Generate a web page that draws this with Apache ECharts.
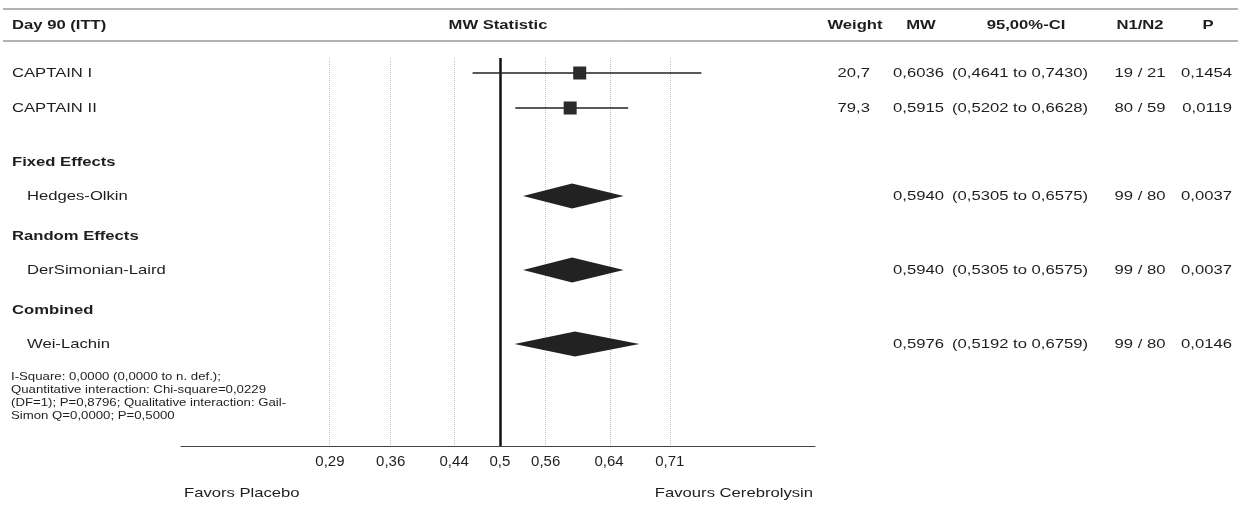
<!DOCTYPE html>
<html>
<head>
<meta charset="utf-8">
<title>Day 90 (ITT) - MW Statistic</title>
<script src="https://cdn.jsdelivr.net/npm/echarts@6/dist/echarts.min.js"></script>
<style>
html, body { margin: 0; padding: 0; background: #fff; }
#chart { width: 1242px; height: 517px; }
</style>
</head>
<body>
<div id="chart"></div>
<script>
// single studies
var studies = ['CAPTAIN I', 'CAPTAIN II'];
var studyWeight = [20.7, 79.3];
var studyMW = [0.6036, 0.5915];
var studyLow = [0.4641, 0.5202];
var studyHigh = [0.7430, 0.6628];
var studyN1 = [19, 80];
var studyN2 = [21, 59];
var studyP = [0.1454, 0.0119];

// pooled results
var poolGroups = ['Fixed Effects', 'Random Effects', 'Combined'];
var poolMethods = ['Hedges-Olkin', 'DerSimonian-Laird', 'Wei-Lachin'];
var poolMW = [0.5940, 0.5940, 0.5976];
var poolLow = [0.5305, 0.5305, 0.5192];
var poolHigh = [0.6575, 0.6575, 0.6759];
var poolN1 = [99, 99, 99];
var poolN2 = [80, 80, 80];
var poolP = [0.0037, 0.0037, 0.0146];

var tickValues = [0.29, 0.36, 0.44, 0.5, 0.56, 0.64, 0.71];
var tickLabels = ['0,29', '0,36', '0,44', '0,5', '0,56', '0,64', '0,71'];

var footnote = [
  'I-Square: 0,0000 (0,0000 to n. def.);',
  'Quantitative interaction: Chi-square=0,0229',
  '(DF=1); P=0,8796; Qualitative interaction: Gail-',
  'Simon Q=0,0000; P=0,5000'
];

// layout (pixels)
var gridTop = 58;
var gridBottom = 446;
var studyRows = [15, 50];
var groupRows = [104, 178, 252];
var methodRows = [138, 212, 286];
var FONT = '"Liberation Sans", Arial, sans-serif';

function logit(p) { return Math.log(p / (1 - p)); }
function num(v, d) { return v.toFixed(d).replace('.', ','); }

function txt(x, y, text, o) {
  o = o || {};
  return {
    type: 'text', x: x, y: y, silent: true,
    scaleX: o.sx || 1.28,
    style: {
      text: text,
      fill: '#1e1e1e',
      font: (o.bold ? 'bold ' : '') + (o.size || 13) + 'px ' + FONT,
      textAlign: o.align || 'left',
      textVerticalAlign: 'middle'
    }
  };
}

function tableRow(y, w, mw, lo, hi, n1, n2, p) {
  var out = [];
  if (w != null) out.push(txt(870, y, num(w, 1), { align: 'right' }));
  out.push(txt(893, y, num(mw, 4)));
  out.push(txt(952, y, '(' + num(lo, 4) + ' to ' + num(hi, 4) + ')'));
  out.push(txt(1140, y, n1 + ' / ' + n2, { align: 'center' }));
  out.push(txt(1232, y, num(p, 4), { align: 'right' }));
  return out;
}

var graphics = [
  { type: 'line', silent: true, shape: { x1: 3, y1: 9, x2: 1238, y2: 9 }, style: { stroke: '#666', lineWidth: 1 } },
  { type: 'line', silent: true, shape: { x1: 3, y1: 41, x2: 1238, y2: 41 }, style: { stroke: '#666', lineWidth: 1 } },
  txt(12, 25, 'Day 90 (ITT)', { bold: true }),
  txt(498, 25, 'MW Statistic', { bold: true, align: 'center' }),
  txt(855, 25, 'Weight', { bold: true, align: 'center' }),
  txt(921, 25, 'MW', { bold: true, align: 'center' }),
  txt(1026, 25, '95,00%-CI', { bold: true, align: 'center' }),
  txt(1140, 25, 'N1/N2', { bold: true, align: 'center' }),
  txt(1208, 25, 'P', { bold: true, align: 'center' }),
  txt(184, 493, 'Favors Placebo'),
  txt(813, 493, 'Favours Cerebrolysin', { align: 'right' })
];

studies.forEach(function (s, i) {
  var y = gridTop + studyRows[i];
  graphics.push(txt(12, y, s));
  graphics = graphics.concat(tableRow(y, studyWeight[i], studyMW[i], studyLow[i], studyHigh[i], studyN1[i], studyN2[i], studyP[i]));
});
poolGroups.forEach(function (g, i) {
  graphics.push(txt(12, gridTop + groupRows[i], g, { bold: true }));
  var y = gridTop + methodRows[i];
  graphics.push(txt(27, y, poolMethods[i]));
  graphics = graphics.concat(tableRow(y, null, poolMW[i], poolLow[i], poolHigh[i], poolN1[i], poolN2[i], poolP[i]));
});
footnote.forEach(function (line, i) {
  graphics.push(txt(11, 377 + i * 13, line, { size: 11, sx: 1.2 }));
});

var refLines = tickValues.map(function (v) {
  if (v === 0.5) {
    return { xAxis: logit(v), lineStyle: { color: '#111', width: 2.5, type: 'solid' } };
  }
  return { xAxis: logit(v), lineStyle: { color: '#bdbdbd', width: 1, type: 'dotted' } };
});

var chart = echarts.init(document.getElementById('chart'));
chart.setOption({
  animation: false,
  backgroundColor: '#fff',
  grid: { left: 181, right: 427, top: gridTop, bottom: 517 - gridBottom },
  xAxis: {
    type: 'value',
    min: -1.68,
    max: 1.66,
    axisLine: { show: true, onZero: false, lineStyle: { color: '#444', width: 1 } },
    axisTick: { show: false },
    splitLine: { show: false },
    axisLabel: {
      customValues: tickValues.map(logit),
      margin: 8,
      color: '#1e1e1e',
      fontSize: 15,
      fontFamily: FONT,
      formatter: function (v) {
        var best = 0;
        tickValues.forEach(function (t, i) {
          if (Math.abs(logit(t) - v) < Math.abs(logit(tickValues[best]) - v)) best = i;
        });
        return tickLabels[best];
      }
    }
  },
  yAxis: { type: 'value', inverse: true, min: 0, max: gridBottom - gridTop, show: false },
  graphic: graphics,
  series: [
    {
      type: 'line',
      data: [],
      z: 1,
      markLine: { silent: true, symbol: 'none', label: { show: false }, data: refLines }
    },
    {
      type: 'custom',
      z: 5,
      data: studies.map(function (s, i) {
        return [logit(studyLow[i]), logit(studyMW[i]), logit(studyHigh[i]), studyRows[i]];
      }),
      encode: { x: [0, 1, 2], y: 3 },
      renderItem: function (params, api) {
        var lo = api.coord([api.value(0), api.value(3)]);
        var mid = api.coord([api.value(1), api.value(3)]);
        var hi = api.coord([api.value(2), api.value(3)]);
        return {
          type: 'group',
          children: [
            { type: 'line', shape: { x1: lo[0], y1: lo[1], x2: hi[0], y2: hi[1] }, style: { stroke: '#222', lineWidth: 1.3 } },
            { type: 'rect', shape: { x: mid[0] - 6.5, y: mid[1] - 6.5, width: 13, height: 13 }, style: { fill: '#2b2b2b' } }
          ]
        };
      }
    },
    {
      type: 'custom',
      z: 5,
      data: poolMethods.map(function (m, i) {
        return [logit(poolLow[i]), logit(poolMW[i]), logit(poolHigh[i]), methodRows[i]];
      }),
      encode: { x: [0, 1, 2], y: 3 },
      renderItem: function (params, api) {
        var lo = api.coord([api.value(0), api.value(3)]);
        var mid = api.coord([api.value(1), api.value(3)]);
        var hi = api.coord([api.value(2), api.value(3)]);
        return {
          type: 'polygon',
          shape: { points: [[lo[0], lo[1]], [mid[0], mid[1] - 12.5], [hi[0], hi[1]], [mid[0], mid[1] + 12.5]] },
          style: { fill: '#222' }
        };
      }
    }
  ]
});
</script>
</body>
</html>
